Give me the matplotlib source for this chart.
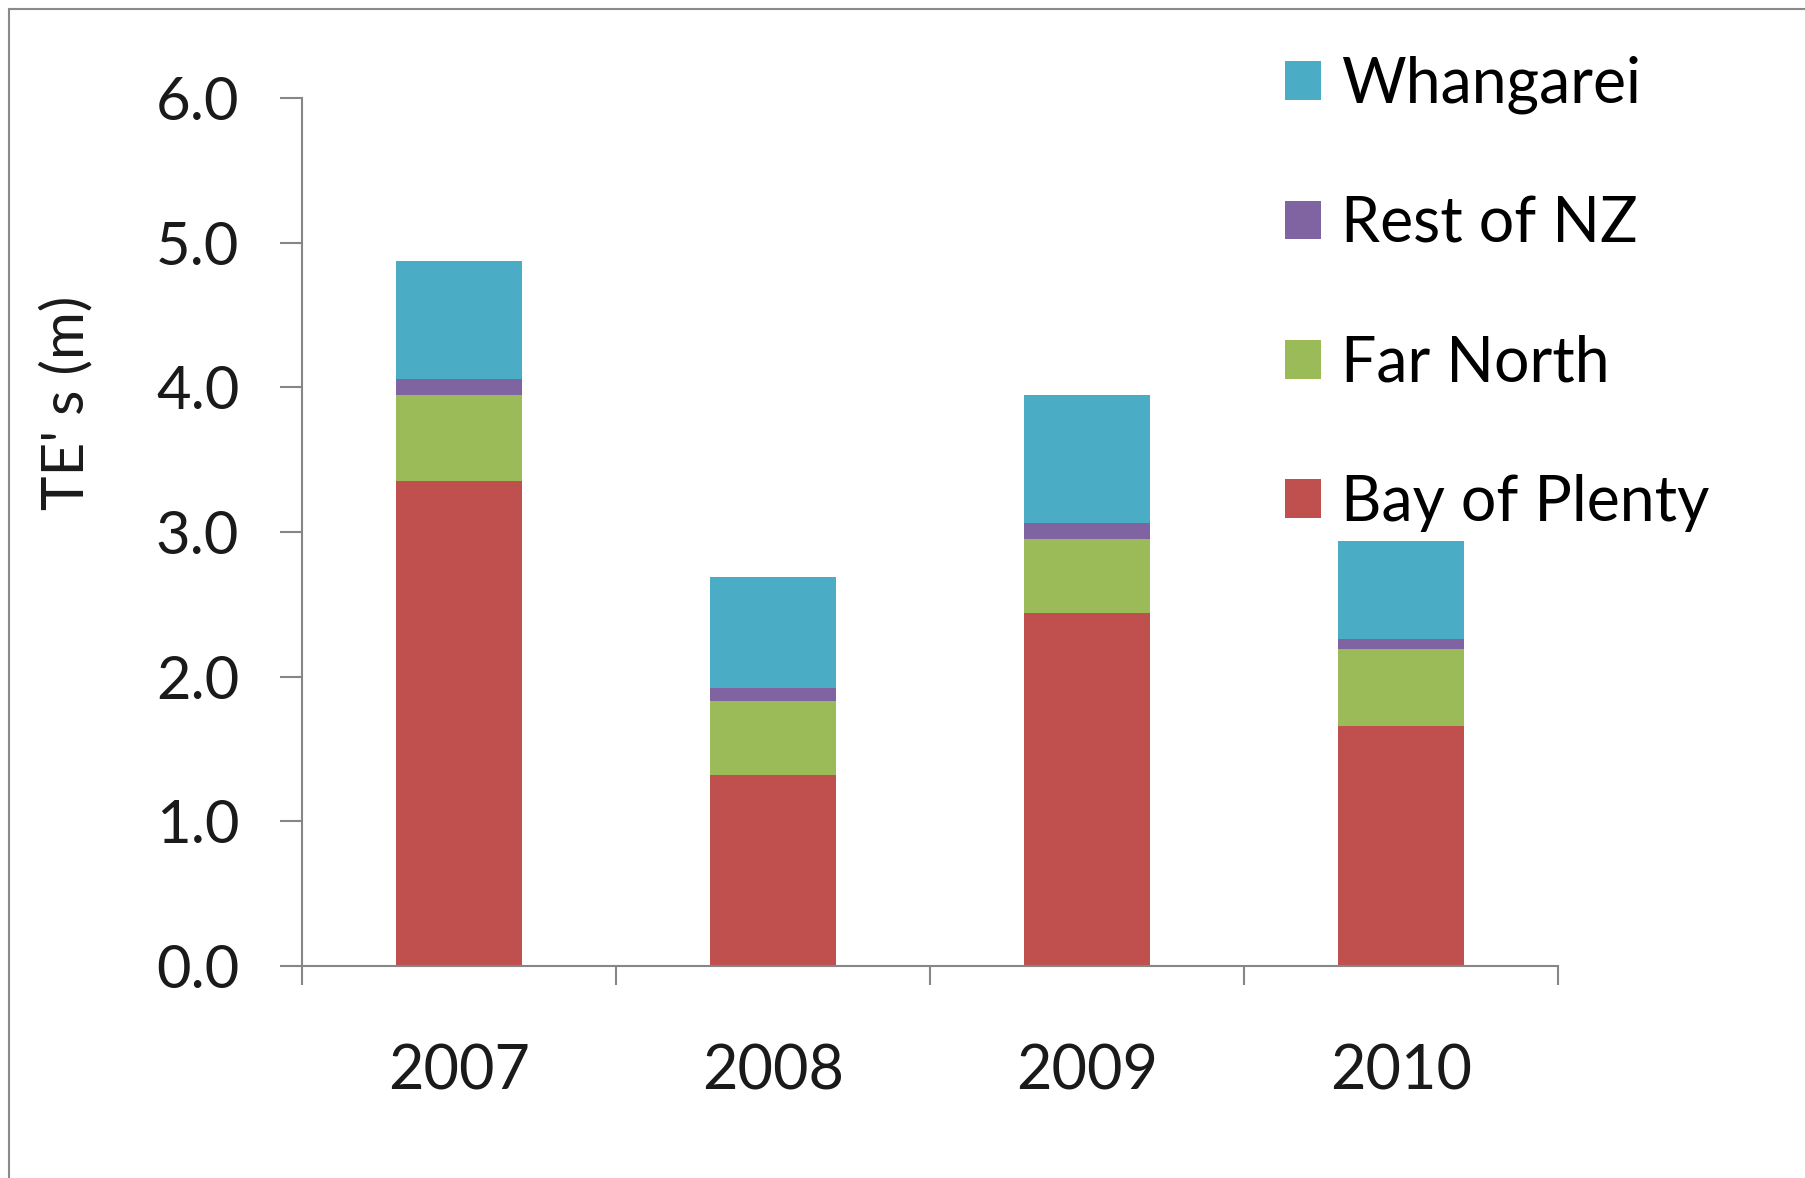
import matplotlib.pyplot as plt
from matplotlib.lines import Line2D
import numpy as np

plt.rcParams['font.family'] = ['Lato', 'DejaVu Sans']

# data
years = ['2007', '2008', '2009', '2010']
bay_of_plenty = [3.35, 1.32, 2.44, 1.66]
far_north = [0.60, 0.51, 0.51, 0.53]
rest_of_nz = [0.11, 0.09, 0.11, 0.07]
whangarei = [0.81, 0.77, 0.89, 0.68]

series = [
    ('Bay of Plenty', bay_of_plenty, '#C0504D'),
    ('Far North', far_north, '#9BBB59'),
    ('Rest of NZ', rest_of_nz, '#8064A2'),
    ('Whangarei', whangarei, '#4BACC6'),
]

fig = plt.figure(figsize=(18.06, 11.78), dpi=100)
ax = fig.add_axes([0.1671, 0.1799, 0.6958, 0.7370])

x = np.arange(len(years))
bottom = np.zeros(len(years))
handles = []
for name, vals, col in series:
    b = ax.bar(x, vals, width=0.4, bottom=bottom, color=col, label=name)
    bottom += np.array(vals)
    handles.append(b)

ax.set_xlim(-0.5, len(years) - 0.5)
ax.set_ylim(0, 6)
ax.set_yticks(np.arange(0, 6.1, 1.0))
ax.set_yticklabels([f'{v:.1f}' for v in np.arange(0, 6.1, 1.0)])
ax.set_xticks(x)
ax.set_xticklabels(years)
ax.set_xticks(np.arange(-0.5, len(years), 1.0), minor=True)

axis_col = '#868686'
for s in ['top', 'right']:
    ax.spines[s].set_visible(False)
for s in ['left', 'bottom']:
    ax.spines[s].set_color(axis_col)
    ax.spines[s].set_linewidth(1.5)

ax.tick_params(axis='y', length=16, width=1.5, color=axis_col, pad=29,
               labelsize=43, labelcolor='#1a1a1a')
ax.tick_params(axis='x', which='major', length=0, pad=56,
               labelsize=44, labelcolor='#1a1a1a')
ax.tick_params(axis='x', which='minor', length=14, width=1.5, color=axis_col)

fig.text(0.037, 0.658, "TE' s (m)", rotation=90, ha='center', va='center',
         fontsize=42, color='#1a1a1a')

ax.legend(handles[::-1], [s[0] for s in series][::-1],
          loc='upper left', bbox_to_anchor=(0.7115, 0.953),
          bbox_transform=fig.transFigure, frameon=False, fontsize=45,
          handlelength=0.57, handleheight=0.57, handletextpad=0.32,
          labelspacing=1.3, borderaxespad=0, borderpad=0)

# figure border (top and left edges visible in the original)
fig.add_artist(Line2D([0.005, 0.005], [0.0, 0.992], color='#8a8a8a', lw=1.5,
                      transform=fig.transFigure))
fig.add_artist(Line2D([0.005, 1.0], [0.992, 0.992], color='#8a8a8a', lw=1.5,
                      transform=fig.transFigure))

fig.savefig('out.png', dpi=100)
